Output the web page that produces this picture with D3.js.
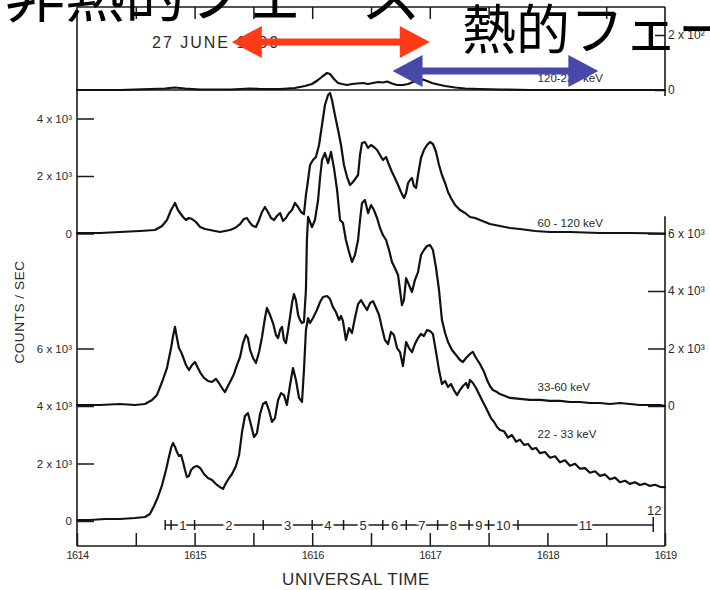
<!DOCTYPE html>
<html>
<head>
<meta charset="utf-8">
<script src="https://cdn.jsdelivr.net/npm/d3@7"></script>
<style>
  html, body { margin: 0; padding: 0; background: #fff; }
  svg { display: block; }
</style>
</head>
<body>
<svg id="chart" width="710" height="590"></svg>
<script>
// Hard X-ray count rates, 27 June 1980 flare.
// Time is seconds after 16:14:00 UT, values are counts/sec.

const ch120_235 = [[0,0],[21.9,0],[37.2,3.6],[44.9,5.5],[50.0,9.1],[55.1,5.5],[62.8,1.8],[78.1,1.8],[88.3,5.5],[93.4,3.6],[103.6,3.6],[111.2,7.3],[116.3,14.5],[119.9,21.8],[123.0,36.4],[125.5,50.9],[127.6,61.8],[129.1,58.2],[131.1,40],[133.2,25.5],[135.2,21.8],[137.8,18.2],[140.3,21.8],[142.9,23.6],[145.9,25.5],[148.5,21.8],[151.0,25.5],[153.6,29.1],[156.1,27.3],[158.2,30.9],[160.7,23.6],[163.3,18.2],[166.3,18.2],[168.9,21.8],[171.4,29.1],[174.0,36.4],[176.5,38.2],[178.6,32.7],[181.1,25.5],[184.2,20],[187.8,14.5],[192.9,9.1],[198.0,5.5],[205.6,3.6],[215.8,1.8],[231.1,0],[266.8,0],[300,0]];

const ch60_120 = [[0,17],[11.7,17],[21.9,52],[32.1,87],[39.8,122],[43.4,261],[45.9,470],[48.0,817],[50.0,1061],[51.5,817],[52.6,713],[54.1,574],[55.6,470],[57.1,539],[58.7,504],[60.7,400],[62.8,226],[65.3,157],[67.9,122],[70.4,87],[73.0,52],[75.5,87],[78.1,122],[80.6,191],[83.2,330],[85.2,504],[86.7,539],[88.3,365],[89.8,261],[91.3,226],[92.9,470],[94.4,748],[95.9,922],[97.4,748],[99.0,539],[100.5,470],[102.0,609],[103.6,713],[105.1,435],[106.6,539],[108.2,713],[109.7,817],[111.2,1061],[112.8,922],[114.3,748],[115.8,678],[116.8,1339],[117.9,1861],[118.9,2382],[120.4,2556],[121.9,2661],[123.5,3078],[125.0,3774],[126.5,4469],[128.1,4817],[129.1,4887],[130.1,4643],[131.6,4121],[133.2,3600],[134.7,3078],[136.2,2382],[137.8,1965],[139.3,1687],[140.8,1791],[142.3,1930],[143.4,2035],[144.4,2730],[145.4,3147],[146.9,3182],[148.5,2974],[150.0,3078],[151.5,3008],[153.1,2904],[154.6,2730],[156.1,2556],[157.7,2661],[159.2,2382],[160.7,2139],[162.2,1930],[163.8,1687],[165.3,1443],[166.8,1235],[167.9,1409],[168.9,1756],[169.9,1861],[170.9,1930],[171.9,1652],[173.0,1583],[174.0,2035],[175.5,2626],[177.0,2904],[178.6,3078],[180.1,3182],[181.6,3113],[183.2,2834],[184.7,2382],[186.2,2035],[187.8,1756],[189.3,1443],[190.8,1235],[192.9,991],[195.4,817],[198.0,713],[200.5,574],[203.1,539],[205.6,470],[210.7,330],[215.8,261],[220.9,191],[226.0,157],[233.7,87],[241.3,52],[251.5,52],[266.8,17],[282.1,17],[300,0]];

const ch33_60 = [[0,35],[11.7,35],[21.9,70],[29.6,35],[34.7,70],[38.3,210],[40.8,385],[43.4,835],[45.9,1320],[48.0,2015],[49.0,2435],[50.0,2750],[51.0,2365],[52.0,2015],[53.1,1880],[54.1,1705],[55.6,1425],[57.1,1250],[58.7,1425],[60.2,1530],[61.7,1320],[63.3,1115],[64.8,975],[66.8,870],[68.9,835],[70.9,940],[72.4,800],[74.0,625],[75.5,485],[77.0,695],[78.6,905],[80.1,1115],[81.6,1425],[83.2,1705],[84.7,2190],[86.2,2470],[87.2,2365],[88.3,1950],[89.8,1670],[91.3,1495],[92.9,1880],[94.4,2400],[95.9,3060],[96.9,3410],[98.5,3165],[100.0,2885],[101.5,2470],[102.6,2365],[103.6,2645],[104.6,2750],[105.6,2295],[106.6,2190],[107.7,2645],[108.7,3095],[109.7,3580],[110.7,3895],[111.7,3685],[112.8,3165],[113.8,2990],[114.8,2885],[115.8,2920],[116.8,4035],[117.3,5775],[117.9,6575],[118.9,6400],[119.9,6225],[121.4,6470],[123.0,7165],[124.0,7930],[125.0,8555],[126.5,8800],[128.1,8450],[129.6,8835],[131.1,8280],[132.7,7510],[134.2,6470],[135.7,6365],[137.2,5775],[138.8,5355],[140.3,5010],[141.8,5250],[143.4,5775],[144.4,6470],[145.4,7060],[146.9,7165],[148.5,6710],[150.0,6990],[151.5,6815],[153.1,6540],[154.6,6190],[156.1,5945],[157.7,5775],[159.2,5425],[160.7,5010],[162.2,4800],[163.8,4555],[164.8,4035],[165.8,3510],[166.8,3685],[167.9,4450],[169.4,4210],[170.9,3965],[172.4,4380],[174.0,4660],[175.5,5250],[177.0,5425],[178.6,5565],[180.1,5600],[181.6,5425],[183.2,4800],[184.7,4035],[186.2,2990],[187.8,2540],[189.3,2225],[191.3,1950],[193.4,1775],[195.4,1600],[196.9,1530],[198.5,1670],[200.5,1810],[202.0,1880],[203.6,1670],[205.6,1460],[207.7,1180],[209.2,905],[210.7,695],[212.2,555],[214.3,485],[215.8,415],[218.4,350],[220.9,280],[226.0,245],[231.1,210],[236.2,210],[241.3,175],[246.4,175],[251.5,140],[256.6,140],[261.7,105],[266.8,105],[271.9,70],[277.0,105],[282.1,70],[287.2,35],[292.3,35],[297.4,35],[300,0]];

const ch22_33 = [[0,35],[6.6,35],[14.3,70],[21.9,70],[29.6,105],[34.7,140],[37.2,245],[39.3,520],[41.3,835],[43.4,1250],[45.4,1775],[46.9,2225],[48.0,2540],[49.0,2715],[50.0,2575],[51.0,2400],[52.0,2260],[53.1,2295],[54.1,2050],[55.1,1775],[56.1,1530],[57.1,1565],[58.2,1775],[59.7,1880],[61.2,1915],[62.8,1845],[64.8,1635],[66.8,1495],[68.9,1425],[70.9,1285],[73.0,1180],[74.5,1115],[76.0,1320],[77.6,1495],[79.1,1635],[81.1,1915],[82.7,2295],[84.2,3095],[85.7,3650],[87.2,3755],[88.8,3340],[90.3,2920],[91.8,3060],[93.4,3720],[94.9,4070],[96.4,4140],[97.9,3860],[99.5,3445],[101.0,3580],[102.6,4210],[104.1,4450],[105.6,4380],[107.1,4035],[108.7,4730],[110.2,5320],[111.7,4905],[113.3,4280],[114.8,4140],[115.8,5250],[116.8,6645],[117.9,7060],[118.9,6885],[120.4,7060],[122.4,7340],[124.0,7615],[125.5,7790],[127.6,7825],[129.1,7720],[130.6,7440],[132.1,7270],[133.7,6990],[134.7,7130],[135.7,6955],[137.2,6295],[138.8,6710],[140.3,6540],[141.8,7060],[143.4,7545],[144.9,7685],[146.4,7510],[148.0,7340],[149.5,7580],[151.0,7650],[152.6,7410],[154.1,7165],[155.6,6710],[157.1,6295],[158.7,6155],[160.2,6575],[161.7,6470],[163.3,6015],[164.8,5875],[166.3,5390],[167.9,6225],[169.4,6015],[170.9,5875],[172.4,6155],[174.0,6365],[175.5,6505],[177.0,6435],[178.6,6645],[180.1,6610],[181.6,6505],[183.2,5875],[184.7,5250],[186.2,4765],[187.8,4870],[189.3,4660],[190.8,4765],[192.3,4555],[193.9,4380],[195.4,4555],[196.9,4695],[198.5,4800],[199.5,4625],[200.5,4905],[202.0,4800],[203.6,4625],[205.1,4415],[206.6,4210],[208.2,4000],[209.7,3790],[211.2,3580],[212.8,3445],[214.3,3270],[215.8,3165],[217.9,3120],[219.9,2900],[221.9,2990],[224.0,2760],[226.0,2830],[228.1,2650],[230.1,2680],[232.1,2500],[234.2,2540],[236.2,2360],[238.8,2400],[241.3,2200],[243.9,2250],[246.4,2040],[249.0,2110],[251.5,1920],[254.1,1990],[256.6,1820],[259.2,1840],[261.7,1680],[264.3,1730],[266.8,1570],[269.4,1620],[271.9,1450],[274.5,1510],[277.0,1350],[279.6,1400],[282.1,1290],[284.7,1350],[287.2,1250],[289.8,1300],[292.3,1220],[294.9,1260],[297.4,1190],[300,1180]];

// Vertical offsets of the three lower channels on the shared count axis
const channelOffsets = { ch60_120: 10000, ch33_60: 4000, ch22_33: 0 };

// Channel names
const channelNames = ["120-235 keV", "60 - 120 keV", "33-60 keV", "22 - 33 keV"];

// Left axis ticks (shared scale) and their labels
const leftTicks = [0, 2000, 4000, 6000, 10000, 12000, 14000];
const leftTickLabels = ["0", "2 x 10³", "4 x 10³", "6 x 10³", "0", "2 x 10³", "4 x 10³"];
// Right axis ticks for the 33-60 keV channel
const rightTicks = [4000, 6000, 8000, 10000];
const rightTickLabels = ["0", "2 x 10³", "4 x 10³", "6 x 10³"];
// Top panel ticks (120-235 keV)
const topTicks = [0, 200];
const topTickLabels = ["0", "2 x 10²"];

// Time ticks every 30 s; labelled every minute as HHMM
const timeTicks = d3.range(0, 301, 30);
const timeLabels = ["1614", "", "1615", "", "1616", "", "1617", "", "1618", "", "1619"];

// Spectral accumulation intervals (s after 16:14:00)
const intervalBounds = [45, 48, 60, 95, 120, 136, 156, 168, 184, 200, 210, 225, 294];
const intervalLabels = ["1", "2", "3", "4", "5", "6", "7", "8", "9", "10", "11"];

// Phase annotations
const phaseSpans = [
  { name: "非熱的フェーズ", start: 79, end: 180, color: "#ff3a16" },
  { name: "熱的フェーズ", start: 161, end: 266, color: "#4848a8" }
];

const svg = d3.select("#chart");
const frame = { left: 77, right: 665, top: 7, bottom: 546 };
const ink = "#1a1a1a";
const labelFont = "'Liberation Sans', Arial, sans-serif";

const x = d3.scaleLinear().domain([0, 300]).range([frame.left, frame.right]);
const yLow = d3.scaleLinear().domain([0, 14000]).range([521, 118.5]);
const yTop = d3.scaleLinear().domain([0, 200]).range([90, 35]);

// ---- frame lines ----
const frameG = svg.append("g").attr("stroke", ink).attr("stroke-width", 1.6).attr("fill", "none");
frameG.append("line").attr("x1", frame.left).attr("x2", frame.left).attr("y1", frame.top).attr("y2", frame.bottom);
frameG.append("line").attr("x1", frame.left).attr("x2", frame.right).attr("y1", frame.bottom).attr("y2", frame.bottom);
frameG.append("line").attr("x1", frame.left).attr("x2", frame.right).attr("y1", frame.top).attr("y2", frame.top);
frameG.append("line").attr("x1", frame.right).attr("x2", frame.right).attr("y1", frame.top).attr("y2", yTop(0) + 6);
frameG.append("line").attr("x1", frame.right).attr("x2", frame.right).attr("y1", yLow(10600)).attr("y2", frame.bottom);
frameG.append("line").attr("x1", frame.left).attr("x2", frame.right).attr("y1", yTop(0)).attr("y2", yTop(0)).attr("stroke-width", 1.4);

function styleAxis(g) {
  g.select(".domain").remove();
  g.selectAll(".tick line").attr("stroke", ink).attr("stroke-width", 1.5);
  g.selectAll(".tick text").attr("fill", "#2a2a2a").attr("font-family", labelFont);
}

// bottom time axis
svg.append("g")
  .attr("transform", `translate(0,${frame.bottom})`)
  .call(d3.axisBottom(x).tickValues(timeTicks).tickSize(-13).tickPadding(5)
    .tickFormat((d, i) => timeLabels[i]))
  .call(styleAxis)
  .call(g => g.selectAll(".tick text").attr("font-size", 11).attr("letter-spacing", -0.6));

// top border ticks
svg.append("g")
  .attr("transform", `translate(0,${frame.top})`)
  .call(d3.axisTop(x).tickValues(timeTicks.slice(1, -1)).tickSize(-12).tickFormat(""))
  .call(styleAxis);

// left count axis
svg.append("g")
  .attr("transform", `translate(${frame.left},0)`)
  .call(d3.axisLeft(yLow).tickValues(leftTicks).tickSize(-17).tickPadding(5)
    .tickFormat((d, i) => leftTickLabels[i]))
  .call(styleAxis)
  .call(g => g.selectAll(".tick text").attr("font-size", 11.5));

// right count axis (33-60 keV)
svg.append("g")
  .attr("transform", `translate(${frame.right},0)`)
  .call(d3.axisRight(yLow).tickValues(rightTicks).tickSize(-17).tickPadding(3)
    .tickFormat((d, i) => rightTickLabels[i]))
  .call(styleAxis)
  .call(g => g.selectAll(".tick text").attr("font-size", 12));

// right axis of the top panel
svg.append("g")
  .attr("transform", `translate(${frame.right},0)`)
  .call(d3.axisRight(yTop).tickValues(topTicks).tickSize(-10).tickPadding(3)
    .tickFormat((d, i) => topTickLabels[i]))
  .call(styleAxis)
  .call(g => g.selectAll(".tick text").attr("font-size", 12));

// ---- light curves ----
const lineTop = d3.line().x(d => x(d[0])).y(d => yTop(d[1]));
const lineLow = off => d3.line().x(d => x(d[0])).y(d => yLow(d[1] + off));

const curves = svg.append("g").attr("fill", "none").attr("stroke", "#111")
  .attr("stroke-width", 2.2).attr("stroke-linejoin", "round").attr("stroke-linecap", "round");
curves.append("path").attr("d", lineTop(ch120_235));
curves.append("path").attr("d", lineLow(channelOffsets.ch60_120)(ch60_120));
curves.append("path").attr("d", lineLow(channelOffsets.ch33_60)(ch33_60));
curves.append("path").attr("d", lineLow(channelOffsets.ch22_33)(ch22_33));

// channel labels
const chLabels = svg.append("g").attr("font-family", labelFont).attr("font-size", 11.5).attr("fill", "#2a2a2a");
chLabels.append("text").attr("x", x(235)).attr("y", yTop(0) - 8).text(channelNames[0]);
chLabels.append("text").attr("x", x(235)).attr("y", yLow(channelOffsets.ch60_120) - 7).text(channelNames[1]);
chLabels.append("text").attr("x", x(235)).attr("y", yLow(channelOffsets.ch33_60) - 15).text(channelNames[2]);
chLabels.append("text").attr("x", x(235)).attr("y", yLow(2900)).text(channelNames[3]);

// date label
svg.append("text").attr("x", 152).attr("y", 48)
  .attr("font-family", labelFont).attr("font-size", 16).attr("letter-spacing", 2)
  .attr("fill", "#2a2a2a").text("27 JUNE 1980");

// ---- interval bar ----
const barY = 525;
const bar = svg.append("g");
bar.append("line").attr("x1", x(intervalBounds[0])).attr("x2", x(intervalBounds[intervalBounds.length - 1]))
  .attr("y1", barY).attr("y2", barY).attr("stroke", ink).attr("stroke-width", 1.3);
bar.selectAll("line.b").data(intervalBounds).join("line").attr("class", "b")
  .attr("x1", d => x(d)).attr("x2", d => x(d))
  .attr("y1", (d, i) => i === intervalBounds.length - 1 ? barY - 8 : barY - 5)
  .attr("y2", (d, i) => i === intervalBounds.length - 1 ? barY + 7 : barY + 5)
  .attr("stroke", ink).attr("stroke-width", 1.5);
bar.selectAll("text.iv").data(intervalLabels).join("text").attr("class", "iv")
  .attr("x", (d, i) => (x(intervalBounds[i + 1]) + x(intervalBounds[i + 2])) / 2)
  .attr("y", barY + 4.5).attr("text-anchor", "middle")
  .attr("font-family", labelFont).attr("font-size", 13).attr("fill", "#2a2a2a")
  .attr("stroke", "#fff").attr("stroke-width", 5).attr("paint-order", "stroke")
  .text(d => d);
bar.append("text").attr("x", x(intervalBounds[intervalBounds.length - 1]) + 1).attr("y", barY - 10)
  .attr("text-anchor", "middle").attr("font-family", labelFont).attr("font-size", 13)
  .attr("fill", "#2a2a2a").text("12");

// axis titles
svg.append("text").attr("x", 356).attr("y", 585)
  .attr("text-anchor", "middle").attr("font-family", labelFont).attr("font-size", 17)
  .attr("letter-spacing", 0.5).attr("fill", "#2a2a2a").text("UNIVERSAL TIME");
svg.append("text").attr("transform", "translate(24,312) rotate(-90)")
  .attr("text-anchor", "middle").attr("font-family", labelFont).attr("font-size", 13.5)
  .attr("letter-spacing", 0.6).attr("fill", "#2a2a2a").text("COUNTS / SEC");

// ---- phase arrows ----
function doubleArrow(x0, x1, y, head, half, shaft) {
  return `M${x0},${y} L${x0 + head},${y - half} L${x0 + head},${y - shaft} L${x1 - head},${y - shaft}` +
    ` L${x1 - head},${y - half} L${x1},${y} L${x1 - head},${y + half} L${x1 - head},${y + shaft}` +
    ` L${x0 + head},${y + shaft} L${x0 + head},${y + half} Z`;
}
const arrowY = [42, 71];
svg.append("g").selectAll("path").data(phaseSpans).join("path")
  .attr("d", (d, i) => doubleArrow(x(d.start), x(d.end), arrowY[i], 30, 16, 3.5))
  .attr("fill", d => d.color);

// phase titles
const jp = "'Noto Sans CJK JP', 'Noto Sans CJK SC', sans-serif";
svg.append("text").attr("x", 5).attr("y", 17).attr("font-family", jp).attr("font-size", 60)
  .attr("fill", "#000").text(phaseSpans[0].name);
svg.append("text").attr("x", 462).attr("y", 50).attr("font-family", jp).attr("font-size", 54)
  .attr("fill", "#000").text(phaseSpans[1].name);
</script>
</body>
</html>
